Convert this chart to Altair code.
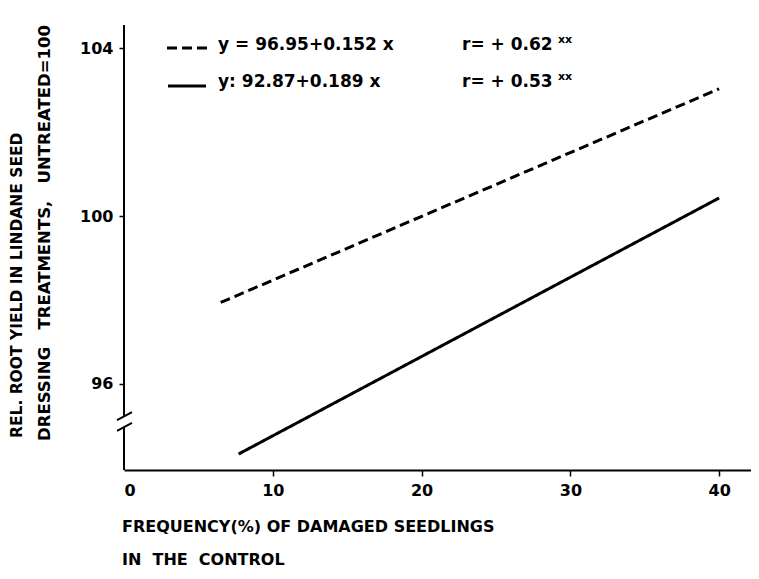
import altair as alt
import pandas as pd

# ---- data ----
series = ["y = 96.95+0.152 x", "y = 92.87+0.189 x"]
dashed_x = [6.5, 40.0]
dashed_y = [97.94, 103.03]
solid_x = [7.7, 40.0]
solid_y = [94.33, 100.43]

x_ticks = [0, 10, 20, 30, 40]
y_ticks = [96, 100, 104]
x_domain = [0, 42.14]
y_domain = [93.95, 104.55]

# y-axis line with a break
axis_lo = [93.95, 95.24]
axis_hi = [94.98, 104.55]
break_x = [-0.47, 0.54, -0.47, 0.54]
break_y = [95.14, 95.33, 94.88, 95.07]
break_id = ["a", "a", "b", "b"]

legend_eq = ["y = 96.95+0.152 x", "y: 92.87+0.189 x"]
legend_r = ["r= + 0.62", "r= + 0.53"]

FONT = "DejaVu Sans"
NB = "\u00a0"

lines_df = pd.DataFrame({
    "x": dashed_x + solid_x,
    "y": dashed_y + solid_y,
    "s": [series[0]] * 2 + [series[1]] * 2,
})
axis_df = pd.DataFrame({"lo": axis_lo, "hi": axis_hi})
break_df = pd.DataFrame({"x": break_x, "y": break_y, "id": break_id})

xs = alt.Scale(domain=x_domain, nice=False, zero=False)
ys = alt.Scale(domain=y_domain, nice=False, zero=False)

base = alt.Chart(lines_df)

data_lines = base.mark_line(strokeWidth=3, color="black", strokeCap="butt").encode(
    x=alt.X("x:Q", scale=xs, axis=alt.Axis(
        values=x_ticks, title=None, grid=False, domain=True, domainColor="black",
        domainWidth=2, tickColor="black", tickWidth=1.5, tickSize=6,
        tickOpacity={"expr": "datum.value == 0 ? 0 : 1"},
        labelFont=FONT, labelFontWeight="bold", labelFontSize=16, labelColor="black",
        labelPadding=6)),
    y=alt.Y("y:Q", scale=ys, axis=alt.Axis(
        values=y_ticks, title=None, grid=False, domain=False,
        tickColor="black", tickWidth=1.5, tickSize=5,
        labelFont=FONT, labelFontWeight="bold", labelFontSize=16, labelColor="black",
        labelPadding=6)),
    strokeDash=alt.StrokeDash("s:N", scale=alt.Scale(domain=series, range=[[10, 5], [1, 0]]), legend=None),
    detail="s:N",
)

yaxis = alt.Chart(axis_df).mark_rule(strokeWidth=2, color="black").encode(
    x=alt.value(0), y=alt.Y("lo:Q", scale=ys), y2="hi:Q")

breaks = alt.Chart(break_df).mark_line(strokeWidth=2, color="black").encode(
    x=alt.X("x:Q", scale=xs), y=alt.Y("y:Q", scale=ys), detail="id:N")

# legend
leg_df = pd.DataFrame({"eq": legend_eq, "r": legend_r, "row": [0, 1]})
row0 = alt.Chart(leg_df).transform_filter("datum.row == 0")
row1 = alt.Chart(leg_df).transform_filter("datum.row == 1")

txt = dict(font=FONT, fontWeight="bold", fontSize=17, align="left", baseline="middle", color="black")

leg_dash = row0.mark_rule(strokeWidth=3, color="black", strokeDash=[10, 5]).encode(
    x=alt.value(43), x2=alt.value(84), y=alt.value(23))
leg_solid = row1.mark_rule(strokeWidth=3, color="black").encode(
    x=alt.value(44), x2=alt.value(82), y=alt.value(61))
leg_eq1 = row0.mark_text(**txt).encode(x=alt.value(94), y=alt.value(20), text="eq:N")
leg_eq2 = row1.mark_text(**txt).encode(x=alt.value(94), y=alt.value(57), text="eq:N")
leg_r1 = row0.mark_text(**txt).encode(x=alt.value(338), y=alt.value(20), text="r:N")
leg_r2 = row1.mark_text(**txt).encode(x=alt.value(338), y=alt.value(57), text="r:N")
sup = dict(font=FONT, fontWeight="bold", fontSize=11, align="left", baseline="middle",
           color="black", text="xx")
sup1 = row0.mark_text(**sup).encode(x=alt.value(434), y=alt.value(15))
sup2 = row1.mark_text(**sup).encode(x=alt.value(434), y=alt.value(52))

# axis titles
ytitle1 = row0.mark_text(
    font=FONT, fontWeight="bold", fontSize=15.5, align="left", baseline="middle", angle=270,
    color="black", text="REL. ROOT YIELD IN LINDANE SEED").encode(
    x=alt.value(-107), y=alt.value(413))
ytitle2 = row0.mark_text(
    font=FONT, fontWeight="bold", fontSize=16.5, align="left", baseline="middle", angle=270,
    color="black",
    text=f"DRESSING{NB}{NB} TREATMENTS,{NB}{NB} UNTREATED=100").encode(
    x=alt.value(-79), y=alt.value(416))
xtitle1 = row0.mark_text(
    font=FONT, fontWeight="bold", fontSize=16, align="left", baseline="middle",
    color="black", text="FREQUENCY(%) OF DAMAGED SEEDLINGS").encode(
    x=alt.value(-2), y=alt.value(502))
xtitle2 = row0.mark_text(
    font=FONT, fontWeight="bold", fontSize=16, align="left", baseline="middle",
    color="black", text=f"IN{NB} THE{NB} CONTROL").encode(
    x=alt.value(-2), y=alt.value(535))

chart = alt.layer(
    data_lines, yaxis, breaks, leg_dash, leg_solid, leg_eq1, leg_eq2, leg_r1, leg_r2,
    sup1, sup2, ytitle1, ytitle2, xtitle1, xtitle2,
).properties(
    width=627, height=445,
    autosize=alt.AutoSizeParams(type="none"),
    padding={"left": 116, "top": 17, "right": 0, "bottom": 101},
    background="white",
).configure_view(stroke=None)

chart.save("out.html", embed_options={"renderer": "svg", "actions": False})
